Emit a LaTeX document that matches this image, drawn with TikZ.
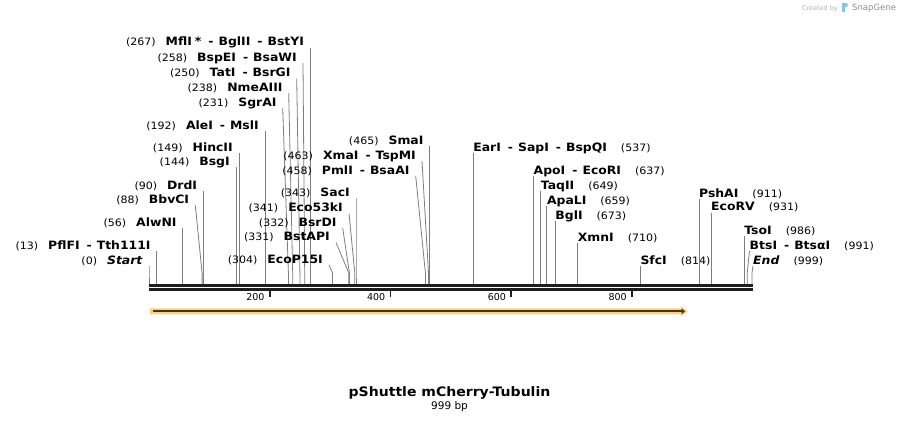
\documentclass[tikz,border=0pt]{standalone}
\usepackage{fontspec}
\setmainfont{DejaVu Sans}
\newfontfamily\enzfont{DejaVu Sans}[FakeStretch=1.08]
\usepackage{xcolor}
\usepackage{tikz}
\usetikzlibrary{calc}
\usetikzlibrary{arrows.meta}
\usetikzlibrary{positioning}
\tikzset{>=latex}
\definecolor{barblack}{RGB}{30,30,30}
\definecolor{cutgray}{RGB}{125,125,125}
\definecolor{featorange}{RGB}{255,208,120}
\definecolor{featdark}{RGB}{62,52,40}
\definecolor{logoblue}{RGB}{125,198,240}
\tikzstyle{lbl} = [inner sep=0pt, font=\enzfont\bfseries\fontsize{11.5}{13}\selectfont]
\tikzstyle{lsite} = [lbl, anchor=base east]
\tikzstyle{rsite} = [lbl, anchor=base west]
\tikzstyle{cut} = [-, draw=cutgray, line width=0.8pt]
\tikzstyle{tick} = [-, draw=barblack, line width=1.8pt]
\tikzstyle{ticklbl} = [inner sep=0pt, anchor=base east, font=\fontsize{9.5}{11}\selectfont]
\newcommand{\bpnum}[1]{{\mdseries\fontsize{10.2}{12}\selectfont(#1)}}
\newcommand{\enzsep}{\hspace{7pt}-\hspace{5pt}}
\newcommand{\lnum}[1]{\bpnum{#1}\hspace{10pt}}
\newcommand{\rnum}[1]{\hspace{14pt}\bpnum{#1}}

\begin{document}
\begin{tikzpicture}[x=1pt, y=-1pt]
\useasboundingbox (0,0) rectangle (902,423);

% sequence bar
\coordinate (seqA) at (149,285.3);
\coordinate (seqB) at (753,285.3);
\coordinate (seqC) at (149,289.3);
\coordinate (seqD) at (753,289.3);
\draw [draw=barblack, line width=2.7pt] (seqA) -- (seqB);
\draw [draw=barblack, line width=2.7pt] (seqC) -- (seqD);

% ticks
\coordinate (t200) at (269.7,291.3);
\coordinate (t400) at (390.4,291.3);
\coordinate (t600) at (511.2,291.3);
\coordinate (t800) at (631.9,291.3);
\draw [tick] (t200) -- ++(0,5.7);
\draw [tick] (t400) -- ++(0,5.7);
\draw [tick] (t600) -- ++(0,5.7);
\draw [tick] (t800) -- ++(0,5.7);
\node [ticklbl] (l200) at (264.7,300.5) {200};
\node [ticklbl] (l400) at (385.4,300.5) {400};
\node [ticklbl] (l600) at (506.2,300.5) {600};
\node [ticklbl] (l800) at (626.9,300.5) {800};

% feature arrow
\fill [featorange] (150,308.3) -- (681,308.3) -- (681,306.3) -- (688,311.3) -- (681,316.3) -- (681,314.3) -- (150,314.3) -- cycle;
\draw [draw=featdark, line width=2.2pt, -{Triangle[length=3.5pt,width=5.5pt]}] (152.5,311.3) -- (685,311.3);

% sites left of the labels
\node [lsite] (n267) at (304.2,45.7) {\lnum{267}MflI\hspace{3pt}*\enzsep BglII\enzsep BstYI};
\draw [cut] (n267.base east) ++(6,2) -- (310.2,273) -- (310.2,284);
\node [lsite] (n258) at (297,61) {\lnum{258}BspEI\enzsep BsaWI};
\draw [cut] (n258.base east) ++(6,2) -- (304.7,273) -- (304.7,284);
\node [lsite] (n250) at (290.7,76.5) {\lnum{250}TatI\enzsep BsrGI};
\draw [cut] (n250.base east) ++(6,2) -- (299.9,273) -- (299.9,284);
\node [lsite] (n238) at (282.7,91) {\lnum{238}NmeAIII};
\draw [cut] (n238.base east) ++(6,2) -- (292.7,273) -- (292.7,284);
\node [lsite] (n231) at (276.7,106) {\lnum{231}SgrAI};
\draw [cut] (n231.base east) ++(6,2) -- (288.4,273) -- (288.4,284);
\node [lsite] (n192) at (258.9,129) {\lnum{192}AleI\enzsep MslI};
\draw [cut] (n192.base east) ++(6,2) -- (264.9,273) -- (264.9,284);
\node [lsite] (n149) at (232.9,151) {\lnum{149}HincII};
\draw [cut] (n149.base east) ++(6,2) -- (238.9,273) -- (238.9,284);
\node [lsite] (n144) at (229.9,165) {\lnum{144}BsgI};
\draw [cut] (n144.base east) ++(6,2) -- (235.9,273) -- (235.9,284);
\node [lsite] (n90) at (197.3,189.3) {\lnum{90}DrdI};
\draw [cut] (n90.base east) ++(6,2) -- (203.3,273) -- (203.3,284);
\node [lsite] (n88) at (189.3,203.3) {\lnum{88}BbvCI};
\draw [cut] (n88.base east) ++(6,2) -- (202.1,273) -- (202.1,284);
\node [lsite] (n56) at (176.8,226) {\lnum{56}AlwNI};
\draw [cut] (n56.base east) ++(6,2) -- (182.8,273) -- (182.8,284);
\node [lsite] (n13) at (150.8,249) {\lnum{13}PflFI\enzsep Tth111I};
\draw [cut] (n13.base east) ++(6,2) -- (156.8,273) -- (156.8,284);
\node [lsite] (n0) at (143,264) {\lnum{0}\textit{Start}};
\draw [cut] (n0.base east) ++(6,2) -- (149,273) -- (149,284);

\node [lsite] (n465) at (423.7,144) {\lnum{465}SmaI};
\draw [cut] (n465.base east) ++(6,2) -- (429.7,273) -- (429.7,284);
\node [lsite] (n463) at (416,159) {\lnum{463}XmaI\enzsep TspMI};
\draw [cut] (n463.base east) ++(6,2) -- (428.5,273) -- (428.5,284);
\node [lsite] (n458) at (409.7,174) {\lnum{458}PmlI\enzsep BsaAI};
\draw [cut] (n458.base east) ++(6,2) -- (425.4,273) -- (425.4,284);
\node [lsite] (n343) at (350,196) {\lnum{343}SacI};
\draw [cut] (n343.base east) ++(6,2) -- (356,273) -- (356,284);
\node [lsite] (n341) at (343,211.5) {\lnum{341}Eco53kI};
\draw [cut] (n341.base east) ++(6,2) -- (354.8,273) -- (354.8,284);
\node [lsite] (n332) at (336.7,226) {\lnum{332}BsrDI};
\draw [cut] (n332.base east) ++(6,2) -- (349.4,273) -- (349.4,284);
\node [lsite] (n331) at (330,240.5) {\lnum{331}BstAPI};
\draw [cut] (n331.base east) ++(6,2) -- (348.8,273) -- (348.8,284);
\node [lsite] (n304) at (323,263) {\lnum{304}EcoP15I};
\draw [cut] (n304.base east) ++(6,2) -- (332.5,273) -- (332.5,284);

% sites right of the labels
\node [rsite] (n537) at (473.1,151) {EarI\enzsep SapI\enzsep BspQI\rnum{537}};
\draw [cut] (n537.base west) ++(0,2) -- (473.1,284);
\node [rsite] (n637) at (533.5,174) {ApoI\enzsep EcoRI\rnum{637}};
\draw [cut] (n637.base west) ++(0,2) -- (533.5,284);
\node [rsite] (n649) at (540.7,189) {TaqII\rnum{649}};
\draw [cut] (n649.base west) ++(0,2) -- (540.7,284);
\node [rsite] (n659) at (546.8,204) {ApaLI\rnum{659}};
\draw [cut] (n659.base west) ++(0,2) -- (546.8,284);
\node [rsite] (n673) at (555.2,219) {BglI\rnum{673}};
\draw [cut] (n673.base west) ++(0,2) -- (555.2,284);
\node [rsite] (n710) at (577.6,241) {XmnI\rnum{710}};
\draw [cut] (n710.base west) ++(0,2) -- (577.6,284);
\node [rsite] (n814) at (640.3,264) {SfcI\rnum{814}};
\draw [cut] (n814.base west) ++(0,2) -- (640.3,284);
\node [rsite] (n911) at (698.9,197) {PshAI\rnum{911}};
\draw [cut] (n911.base west) ++(0,2) -- (698.9,284);
\node [rsite] (n931) at (711,210.5) {EcoRV\rnum{931}};
\draw [cut] (n931.base west) ++(0,2) -- (711,284);
\node [rsite] (n986) at (744.2,234) {TsoI\rnum{986}};
\draw [cut] (n986.base west) ++(0,2) -- (744.2,284);
\node [rsite] (n991) at (749.5,249) {BtsI\enzsep BtsαI\rnum{991}};
\draw [cut] (n991.base west) ++(0,2) -- (747.2,273) -- (747.2,284);
\node [rsite] (n999) at (753,264) {\textit{End}\rnum{999}};
\draw [cut] (n999.base west) ++(0,2) -- (752,273) -- (752,284);

% name and size
\node [anchor=base, inner sep=0pt, font=\enzfont\bfseries\fontsize{13}{16}\selectfont] (title) at (449.5,396.7) {pShuttle mCherry-Tubulin};
\node [anchor=base, inner sep=0pt, font=\fontsize{10.5}{12}\selectfont] (size) at (449.5,409.3) {999 bp};

% credit
\node [anchor=base east, inner sep=0pt, text=black!30, font=\fontsize{6.5}{8}\selectfont] (credit) at (838,10) {Created by};
\fill [logoblue] (842,3) rectangle (844.6,12.3);
\fill [logoblue] (844.6,3) -- (847.5,3.5) -- (847.5,6.5) -- (844.6,7.5) -- cycle;
\node [anchor=base west, inner sep=0pt, text=black!45, font=\fontsize{8.5}{10}\selectfont] (snapgene) at (852,10.5) {SnapGene};
\end{tikzpicture}
\end{document}
